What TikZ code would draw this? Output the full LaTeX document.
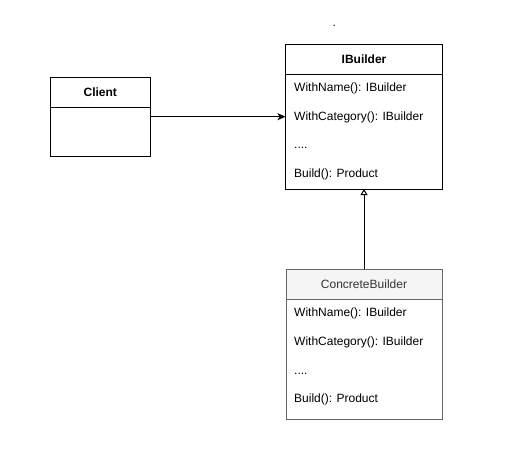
\documentclass[tikz,border=0pt]{standalone}
\usepackage{fontspec}
\setmainfont{Liberation Sans}
\usetikzlibrary{arrows.meta,calc}
\definecolor{cbfill}{HTML}{F5F5F5}
\definecolor{cbline}{HTML}{666666}
\definecolor{cbtext}{HTML}{333333}
\tikzset{
  cls/.style={draw=black, line width=1pt, anchor=north west, inner sep=0pt, outer sep=0pt},
  hdr/.style={cls, font=\fontsize{12}{14}\selectfont\bfseries},
  chdr/.style={cls, draw=cbline, fill=cbfill, text=cbtext, font=\fontsize{12}{14}\selectfont},
  cbody/.style={cls, draw=cbline},
  row/.style={anchor=base west, inner sep=0pt, font=\fontsize{12}{14}\selectfont},
  assoc/.style={draw=black, line width=1pt, -{Stealth[length=8pt,width=7pt,inset=2pt]}},
  inherit/.style={draw=black, line width=1pt, -{Triangle[open,length=6pt,width=7pt]}}
}
\begin{document}
\begin{tikzpicture}[x=1pt,y=-1pt]
\useasboundingbox (0,0) rectangle (530,451);
% stray dot
\node[row] (dot) at (332.5,26.5) {.};
% Client
\node[hdr, minimum width=100pt, minimum height=30pt] (cliH) at (50.3,77) {Client};
\node[cls, minimum width=100pt, minimum height=49pt] (cliB) at (50.3,107) {};
% IBuilder
\node[hdr, minimum width=157pt, minimum height=30pt] (ibH) at (285.5,44) {IBuilder};
\node[cls, minimum width=157pt, minimum height=115pt] (ibB) at (285.5,74) {};
\node[row] (ib1) at (294,91.5) {WithName(): IBuilder};
\node[row] (ib2) at (294,120.3) {WithCategory(): IBuilder};
\node[row] (ib3) at (294,148.5) {....};
\node[row] (ib4) at (294,177.2) {Build(): Product};
% ConcreteBuilder
\node[chdr, minimum width=156pt, minimum height=30pt] (cbH) at (286,269.3) {ConcreteBuilder};
\node[cbody, minimum width=156pt, minimum height=120pt] (cbB) at (286,299.3) {};
\node[row, text=black] (cb1) at (294,316.6) {WithName(): IBuilder};
\node[row, text=black] (cb2) at (294,345.6) {WithCategory(): IBuilder};
\node[row, text=black] (cb3) at (294,374.3) {....};
\node[row, text=black] (cb4) at (294,402.3) {Build(): Product};
% connectors
\coordinate (cliOut) at ([yshift=-9.7pt]cliB.north east);
\draw[assoc] (cliOut) -- (cliOut -| ibB.west);
\draw[inherit] (cbH.north) -- (cbH.north |- ibB.south);
\end{tikzpicture}
\end{document}
